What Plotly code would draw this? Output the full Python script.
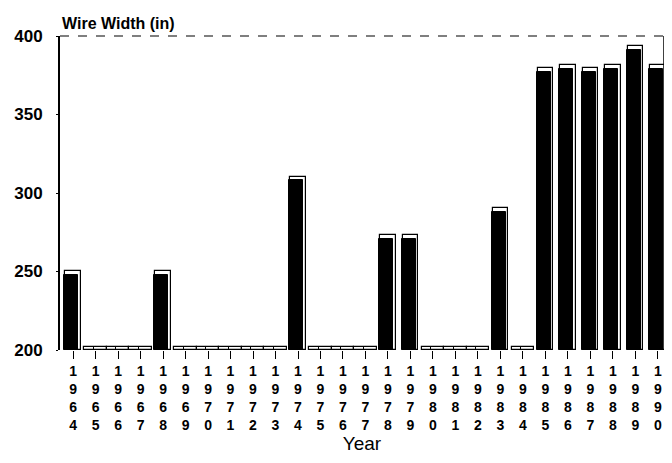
import plotly.graph_objects as go

years = [str(y) for y in range(1964, 1991)]
wire_width = [248, 202, 202, 202, 248, 202, 202, 202, 202, 202,
              308, 202, 202, 202, 271, 271, 202, 202, 202, 288,
              202, 377, 379, 377, 379, 391, 379]
baseline = 200
depth = 2.5  # visual 3D depth (style)

tick_text = ["<b>" + "<br>".join(list(y)) + "</b>" for y in years]
x_idx = list(range(len(years)))
is_zero = [v <= 202 for v in wire_width]

fig = go.Figure()
# back "side" of each bar for a pseudo-3D look
fig.add_trace(go.Bar(
    x=x_idx, y=[v - baseline + (0 if z else depth) for v, z in zip(wire_width, is_zero)],
    base=baseline, width=[1.0 if z else 0.68 for z in is_zero],
    marker=dict(color="white", line=dict(color="black", width=1.2)),
    hoverinfo="skip", showlegend=False,
))
fig.add_trace(go.Bar(
    x=[i - 0.08 for i in x_idx], y=[v - baseline for v in wire_width],
    base=baseline, width=[0.0 if z else 0.62 for z in is_zero],
    marker=dict(color="black", line=dict(color="black", width=1)),
    showlegend=False,
))

# page body has an 8px margin; size the figure so no scrollbars appear
fig.update_layout(
    width=656, height=447,
    margin=dict(l=52, r=0, t=28, b=105),
    paper_bgcolor="white", plot_bgcolor="white",
    barmode="overlay", bargap=0,
    font=dict(family="Arial, Liberation Sans, sans-serif", color="black"),
    xaxis=dict(
        range=[-0.58, 26.27], tickmode="array", tickvals=x_idx, ticktext=tick_text,
        ticks="outside", ticklen=8, tickwidth=1.2, tickcolor="black",
        tickfont=dict(size=14, color="black"),
        showline=False, showgrid=False, zeroline=False,
        title=dict(text="Year", font=dict(size=19, color="black"), standoff=0),
    ),
    yaxis=dict(
        range=[200, 400], tickvals=[200, 250, 300, 350, 400],
        ticktext=["<b>%d</b>" % v for v in [200, 250, 300, 350, 400]],
        ticks="outside", ticklen=2, tickwidth=1, tickcolor="black",
        ticklabelstandoff=10,
        tickfont=dict(size=17, color="black"),
        showline=True, linecolor="black", linewidth=2, mirror=False,
        showgrid=False, zeroline=False,
    ),
    shapes=[
        dict(type="line", xref="paper", yref="paper", x0=0, x1=1, y0=1, y1=1,
             line=dict(color="black", width=1.2, dash="dash")),
        dict(type="line", xref="paper", yref="paper", x0=1, x1=1, y0=0, y1=1,
             line=dict(color="black", width=1.5)),
    ],
    annotations=[dict(
        text="<b>Wire Width (in)</b>", xref="paper", yref="paper",
        x=0, y=1, xanchor="left", yanchor="bottom", yshift=2, showarrow=False,
        font=dict(size=16, color="black"),
    )],
)

fig.write_html("out.html")
